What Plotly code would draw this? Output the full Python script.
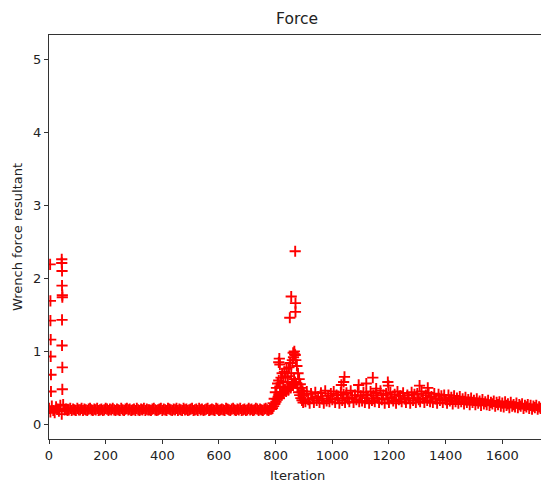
import plotly.graph_objects as go

# ---- data ----
# dense band, iterations 0..780 step 5
force_a = [0.22, 0.17, 0.25, 0.19, 0.16, 0.24, 0.21, 0.18, 0.26, 0.14, 0.27, 0.20,
           0.21, 0.19, 0.20, 0.22, 0.19, 0.21, 0.20, 0.19, 0.22, 0.20,
           0.20, 0.22, 0.19, 0.21, 0.20, 0.19, 0.21, 0.22, 0.20, 0.19,
           0.21, 0.20, 0.22, 0.19, 0.20, 0.21, 0.19, 0.20, 0.22, 0.21,
           0.19, 0.21, 0.20, 0.22, 0.20, 0.19, 0.21, 0.20, 0.19, 0.22,
           0.20, 0.19, 0.21, 0.22, 0.20, 0.21, 0.19, 0.20, 0.21, 0.19,
           0.22, 0.20, 0.19, 0.21, 0.20, 0.22, 0.19, 0.21, 0.20, 0.20,
           0.19, 0.21, 0.22, 0.20, 0.19, 0.20, 0.21, 0.22, 0.19, 0.21,
           0.20, 0.19, 0.22, 0.21, 0.20, 0.19, 0.21, 0.20, 0.22, 0.19,
           0.21, 0.20, 0.19, 0.22, 0.20, 0.21, 0.19, 0.20, 0.21, 0.22,
           0.19, 0.20, 0.21, 0.19, 0.22, 0.20, 0.21, 0.19, 0.20, 0.21,
           0.22, 0.19, 0.20, 0.21, 0.20, 0.19, 0.22, 0.21, 0.19, 0.20,
           0.21, 0.20, 0.19, 0.22, 0.21, 0.20, 0.19, 0.21, 0.22, 0.20,
           0.19, 0.21, 0.20, 0.22, 0.19, 0.20, 0.21, 0.19, 0.20, 0.22,
           0.20, 0.21, 0.19, 0.20, 0.22, 0.21, 0.19, 0.21, 0.20, 0.19,
           0.21, 0.22, 0.20, 0.19, 0.21]
# rise and peak, iterations 785..899 step 2
force_peak = [0.21, 0.24, 0.22, 0.29, 0.25, 0.35, 0.28, 0.44, 0.31, 0.50,
              0.34, 0.56, 0.38, 0.60, 0.36, 0.52, 0.42, 0.64, 0.40, 0.70,
              0.44, 0.58, 0.42, 0.72, 0.48, 0.64, 0.45, 0.76, 0.50, 0.66,
              0.47, 0.78, 0.52, 0.84, 0.50, 0.70, 0.56, 0.88, 0.54, 0.92,
              0.62, 0.96, 0.58, 0.88, 0.56, 0.80, 0.50, 0.70, 0.44, 0.62,
              0.40, 0.55, 0.36, 0.50, 0.33, 0.46, 0.30, 0.42]
# tail, iterations 900..1750 step 5
force_tail = [0.40, 0.31, 0.45, 0.34, 0.29, 0.42, 0.36, 0.30, 0.44, 0.33,
              0.38, 0.30, 0.43, 0.35, 0.29, 0.46, 0.32, 0.39, 0.31, 0.42,
              0.34, 0.45, 0.30, 0.40, 0.36, 0.29, 0.44, 0.33, 0.41, 0.30,
              0.43, 0.35, 0.31, 0.46, 0.37, 0.30, 0.40, 0.34, 0.45, 0.31,
              0.39, 0.32, 0.44, 0.30, 0.41, 0.36, 0.29, 0.45, 0.33, 0.40,
              0.31, 0.43, 0.36, 0.30, 0.46, 0.34, 0.40, 0.29, 0.42, 0.35,
              0.30, 0.44, 0.37, 0.32, 0.41, 0.29, 0.45, 0.34, 0.39, 0.31,
              0.43, 0.35, 0.30, 0.40, 0.36, 0.29, 0.44, 0.33, 0.41, 0.30,
              0.42, 0.34, 0.31, 0.45, 0.36, 0.30, 0.40, 0.33, 0.43, 0.31,
              0.38, 0.30, 0.42, 0.35, 0.29, 0.41, 0.33, 0.39, 0.30, 0.40,
              0.34, 0.29, 0.40, 0.32, 0.37, 0.28, 0.39, 0.31, 0.36, 0.29,
              0.38, 0.31, 0.35, 0.28, 0.37, 0.30, 0.34, 0.27, 0.36, 0.30,
              0.33, 0.27, 0.35, 0.29, 0.32, 0.26, 0.34, 0.28, 0.31, 0.27,
              0.33, 0.26, 0.30, 0.28, 0.32, 0.25, 0.30, 0.27, 0.31, 0.25,
              0.29, 0.24, 0.31, 0.26, 0.28, 0.23, 0.30, 0.25, 0.27, 0.24,
              0.29, 0.23, 0.27, 0.25, 0.28, 0.22, 0.26, 0.24, 0.27, 0.22,
              0.26, 0.21, 0.25, 0.23, 0.26, 0.21, 0.24, 0.22, 0.25, 0.21,
              0.23]
# isolated points
out_iter = [4, 5, 5, 6, 6, 7, 7,
            45, 45, 46, 46, 47, 47, 46, 46, 47, 47,
            811, 813, 815, 862, 866, 869,
            850, 855, 869, 870, 870,
            1032, 1040, 1043, 1093, 1120, 1143, 1155, 1196, 1198, 1308, 1337]
out_force = [2.19, 1.69, 1.42, 1.16, 0.93, 0.68, 0.45,
             2.26, 2.21, 2.10, 1.90, 1.77, 1.74, 1.43, 1.08, 0.78, 0.48,
             0.85, 0.90, 0.82, 0.98, 1.00, 0.95,
             1.46, 1.75, 2.37, 1.66, 1.54,
             0.54, 0.58, 0.65, 0.54, 0.56, 0.64, 0.49, 0.58, 0.53, 0.53, 0.50]

iter_a = list(range(0, 5 * len(force_a), 5))
iter_peak = list(range(785, 785 + 2 * len(force_peak), 2))
iter_tail = list(range(900, 900 + 5 * len(force_tail), 5))

iterations = iter_a + iter_peak + iter_tail + out_iter
forces = force_a + force_peak + force_tail + out_force

W, H = 541, 488
L, R, T, B = 49, 0, 35, 49
pw, ph = W - L - R, H - T - B

fig = go.Figure()
fig.add_trace(go.Scatter(
    x=iterations, y=forces, mode="markers",
    marker=dict(symbol="cross-thin", size=8, color="red",
                line=dict(color="red", width=1.9)),
    showlegend=False, hoverinfo="skip"))

font = "DejaVu Sans, sans-serif"
axis_common = dict(showgrid=False, zeroline=False, showline=True, linecolor="#333",
                   linewidth=1, ticks="outside", ticklen=4, tickwidth=1, tickcolor="#333",
                   tickfont=dict(family=font, size=13, color="#222"))

fig.update_layout(
    width=W, height=H, margin=dict(l=L, r=R, t=T, b=B),
    paper_bgcolor="white", plot_bgcolor="white",
    title=dict(text="Force", x=297 / W, xanchor="center", y=1 - 19 / H, yanchor="middle",
               font=dict(family=font, size=15.5, color="#222")),
    xaxis=dict(range=[0, pw / 0.2833], tickvals=[0, 200, 400, 600, 800, 1000, 1200, 1400, 1600],
               mirror=True, **axis_common),
    yaxis=dict(range=[-0.2, 5.33], tickvals=[0, 1, 2, 3, 4, 5], **axis_common),
    annotations=[
        dict(text="Iteration", xref="paper", yref="paper", x=(297 - L) / pw, y=(H - B - 475) / ph,
             xanchor="center", yanchor="middle", showarrow=False,
             font=dict(family=font, size=13, color="#222")),
        dict(text="Wrench force resultant", xref="paper", yref="paper", x=(17 - L) / pw, y=0.5,
             xanchor="center", yanchor="middle", textangle=-90, showarrow=False,
             font=dict(family=font, size=13, color="#222")),
    ],
)

fig.write_html("out.html")
